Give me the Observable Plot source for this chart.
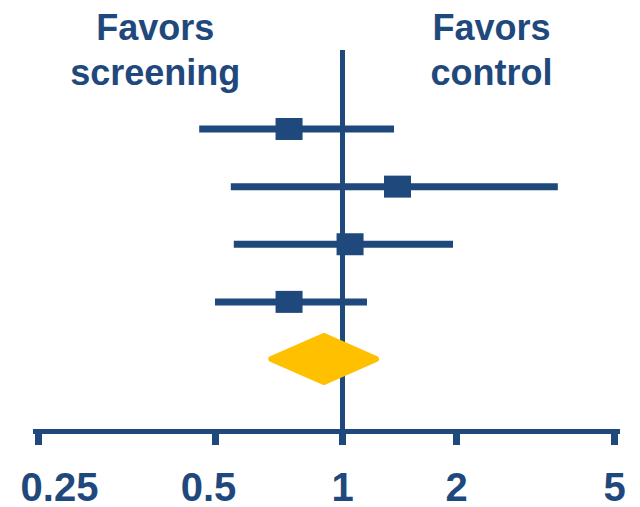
<!DOCTYPE html>
<html>
<head>
<meta charset="utf-8">
<script src="https://cdn.jsdelivr.net/npm/d3@7"></script>
<script src="https://cdn.jsdelivr.net/npm/@observablehq/plot@0.6"></script>
<style>
  html, body { margin: 0; padding: 0; background: #ffffff; }
  #chart { width: 640px; height: 507px; }
</style>
</head>
<body>
<div id="chart"></div>
<script>
// ---- data ----
const studies   = ["Trial 1", "Trial 2", "Trial 3", "Trial 4"];
const studyRow  = [1, 2, 3, 4];
const estimate  = [0.747, 1.397, 1.047, 0.747];
const lower     = [0.470, 0.545, 0.554, 0.500];
const upper     = [1.372, 3.61, 1.964, 1.164];

const pooledRow = 5;
const pooledEst = 0.906;
const pooledLo  = 0.68;
const pooledHi  = 1.23;

const xTicks    = [0.25, 0.5, 1, 2, 5];
const favorText = ["Favors\nscreening", "Favors\ncontrol"];
const favorX    = [0.395, 2.45];

// ---- styling ----
const BLUE = "#1F497D";
const GOLD = "#FFC000";
const FONT = "'Liberation Sans', Arial, Helvetica, sans-serif";

const rows = studies.map((s, i) => ({name: s, row: studyRow[i], est: estimate[i], lo: lower[i], hi: upper[i]}));
const diamondHalf = 0.4; // half-height of pooled diamond, in row units
const diamond = [
  {x: pooledLo,  y1: pooledRow, y2: pooledRow},
  {x: pooledEst, y1: pooledRow - diamondHalf, y2: pooledRow + diamondHalf},
  {x: pooledHi,  y1: pooledRow, y2: pooledRow}
];
const labels = favorText.map((t, i) => ({text: t, x: favorX[i]}));

const boxSymbol = {
  draw(ctx) {
    ctx.moveTo(-13.5, -11);
    ctx.lineTo(13.5, -11);
    ctx.lineTo(13.5, 11);
    ctx.lineTo(-13.5, 11);
    ctx.closePath();
  }
};

const tickLabel = (filter, dx) => Plot.text(xTicks, {
  filter,
  x: d => d,
  text: d => String(d),
  frameAnchor: "bottom",
  lineAnchor: "top",
  dy: 41,
  dx,
  fontSize: 40,
  fontWeight: "bold",
  fill: BLUE
});

const chart = Plot.plot({
  width: 640,
  height: 507,
  marginTop: 50,
  marginBottom: 76,
  marginLeft: 35,
  marginRight: 23,
  style: {fontFamily: FONT, background: "#ffffff", color: BLUE, overflow: "visible"},
  x: {type: "log", domain: xTicks, range: [38, 215, 342, 456, 614]},
  y: {domain: [1, 5], range: [128.5, 359], axis: null},
  marks: [
    Plot.ruleY(rows, {y: "row", x1: "lo", x2: "hi", stroke: BLUE, strokeWidth: 7}),
    Plot.ruleX([1], {stroke: BLUE, strokeWidth: 5}),
    Plot.dot(rows, {x: "est", y: "row", symbol: boxSymbol, fill: BLUE, stroke: null, r: 10}),
    Plot.areaY(diamond, {x: "x", y1: "y1", y2: "y2", fill: GOLD, stroke: GOLD, strokeWidth: 6, strokeLinejoin: "round", curve: "linear"}),
    Plot.frame({anchor: "bottom", stroke: BLUE, strokeWidth: 5}),
    Plot.axisX({
      anchor: "bottom",
      ticks: xTicks,
      tickFormat: null,
      text: null,
      tickSize: 14,
      color: BLUE,
      strokeWidth: 7,
      label: null
    }),
    tickLabel(d => d === 0.25, 21),
    tickLabel(d => d === 0.5, -7),
    tickLabel(d => d > 0.5, 0),
    Plot.text(labels, {
      x: "x",
      text: "text",
      frameAnchor: "top",
      lineAnchor: "top",
      dy: -42,
      lineHeight: 1.25,
      fontSize: 36,
      fontWeight: "bold",
      fill: BLUE
    })
  ]
});
document.getElementById("chart").appendChild(chart);
</script>
</body>
</html>
